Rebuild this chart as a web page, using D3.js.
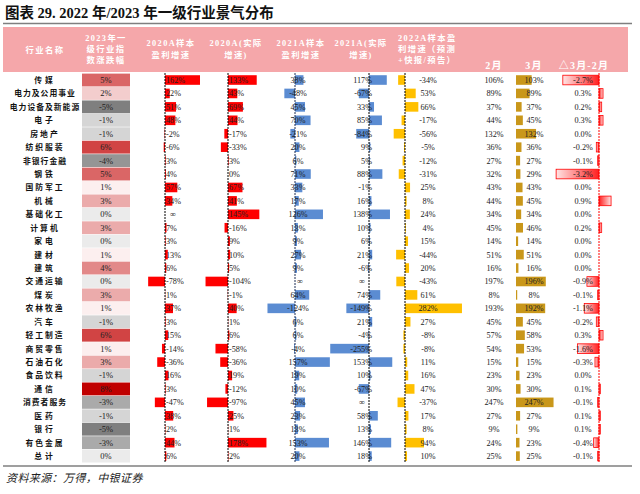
<!DOCTYPE html>
<html><head><meta charset="utf-8">
<script src="https://cdn.jsdelivr.net/npm/d3@7"></script>
<style>
html,body{margin:0;padding:0;background:#fff;}
svg{display:block;}
</style></head>
<body>
<svg id="chart" width="640" height="494"></svg>
<script>
// ---------------- DATA ----------------
const industries = ["传媒","电力及公用事业","电力设备及新能源","电子","房地产","纺织服装","非银行金融","钢铁","国防军工","机械","基础化工","计算机","家电","建材","建筑","交通运输","煤炭","农林牧渔","汽车","轻工制造","商贸零售","石油石化","食品饮料","通信","消费者服务","医药","银行","有色金属","总计"];
const idx2023   = [5,2,-5,-1,-1,6,-4,5,1,3,0,3,0,1,4,0,3,1,-1,6,1,3,-1,8,-3,-1,-5,-3,0];
const sample2020 = [162,22,51,48,-2,-6,3,4,57,34,null,7,3,13,6,-78,1,37,3,15,-14,-36,16,3,-47,38,2,44,6];
const actual2020 = [133,43,69,44,-17,-33,3,0,67,41,145,-16,9,10,5,-104,-1,40,1,6,-58,-36,19,-12,-97,25,1,178,2];
const sample2021 = [38,-48,45,70,-21,20,6,71,33,17,126,13,9,27,9,null,64,-124,6,6,-4,157,19,10,45,23,13,153,20];
const actual2021 = [117,-67,33,85,-84,9,5,88,-1,16,138,10,6,21,-6,null,74,-149,21,-4,-255,153,10,-67,null,58,13,146,18];
const sample2022 = [-34,53,66,-17,-56,-5,-12,-31,25,8,24,4,15,-44,20,-43,61,282,27,-8,-8,11,16,47,-37,17,8,94,10];
const feb = [106,89,37,44,132,36,27,32,43,44,34,45,14,51,16,197,8,193,45,57,54,15,23,30,247,27,9,24,25];
const mar = [103,89,37,45,132,36,27,29,43,45,34,46,14,51,16,196,8,192,45,58,53,15,23,30,247,27,9,23,25];
const delta = [-2.7,0.3,0.2,0.3,0.0,-0.2,-0.1,-3.2,0.0,0.9,0.0,0.2,0.0,0.0,0.0,-0.9,-0.1,-1.1,-0.2,0.3,-1.6,-0.3,0.0,0.1,-0.1,0.1,0.1,-0.4,-0.1];

const title = "图表 29. 2022 年/2023 年一级行业景气分布";
const source = "资料来源：万得，中银证券";
const headers = [
  {lines:["行业名称"], x:45, y:[53], anchor:"middle"},
  {lines:["2023年一","级行业指","数涨跌幅"], x:106, y:[41,52,63], anchor:"middle"},
  {lines:["2020A样本","盈利增速"], x:171, y:[46,58], anchor:"middle"},
  {lines:["2020A(实际","增速)"], x:236, y:[46,58], anchor:"middle"},
  {lines:["2021A样本","盈利增速"], x:301, y:[46,58], anchor:"middle"},
  {lines:["2021A(实际","增速)"], x:361, y:[46,58], anchor:"middle"},
  {lines:["2022A样本盈","利增速（预测","+快报/预告）"], x:398, y:[41,52,63], anchor:"start"}
];
const monthHeaders = [{t:"2月",x:494},{t:"3月",x:534},{t:"△3月-2月",x:584}];

// ---------------- DRAW ----------------
const svg = d3.select("#chart");
const SERIF = "'Liberation Serif','Times New Roman','Noto Sans CJK SC',serif";
const CJK = "'Liberation Serif','Noto Sans CJK SC',sans-serif";

// title
svg.append("text").attr("x",5).attr("y",18)
  .attr("font-family",CJK).attr("font-weight","bold").attr("font-size",14.5)
  .attr("fill","#111").text(title);
svg.append("line").attr("x1",3).attr("x2",632).attr("y1",23.5).attr("y2",23.5)
  .attr("stroke","#7f7f7f").attr("stroke-width",1.5);

// header band
svg.append("rect").attr("x",3).attr("y",27).attr("width",625).attr("height",45).attr("fill","#F5A7AA");
headers.forEach(h=>{
  h.lines.forEach((l,i)=>{
    svg.append("text").attr("x",h.x).attr("y",h.y[i]).attr("text-anchor",h.anchor)
      .attr("font-family",CJK).attr("font-weight","bold").attr("font-size",8.3)
      .attr("letter-spacing",1.4).attr("fill","#fff").text(l);
  });
});
monthHeaders.forEach(m=>{
  svg.append("text").attr("x",m.x).attr("y",69).attr("text-anchor","middle")
    .attr("font-family",CJK).attr("font-weight","bold").attr("font-size",10)
    .attr("letter-spacing",1.2).attr("fill","#fff").text(m.t);
});

const y = d3.scaleBand().domain(industries).range([73.3,462.8]);
const bw = y.bandwidth();
const barH = 9.6;
const rowMid = d => y(d) + bw/2;

// industry names
svg.append("g").selectAll("text").data(industries).join("text")
  .attr("x",45).attr("y",d=>rowMid(d)+3).attr("text-anchor","middle")
  .attr("font-family",CJK).attr("font-weight","bold").attr("font-size",7.8)
  .attr("letter-spacing",d=> d.length <= 2 ? 3 : (d.length <= 4 ? 2 : 1))
  .attr("fill","#111").text(d=>d);

// 2023 index change cells
const cellColor = d3.scaleLinear().domain([-5,0,1,8])
  .range(["#7f7f7f","#ebebeb","#fcefef","#c00000"]);
const gIdx = svg.append("g");
gIdx.selectAll("rect").data(industries).join("rect")
  .attr("x",82).attr("width",48).attr("y",d=>y(d)+0.3).attr("height",bw-0.6)
  .attr("fill",(d,i)=>cellColor(idx2023[i]));
gIdx.selectAll("text").data(industries).join("text")
  .attr("x",106).attr("y",d=>rowMid(d)+3).attr("text-anchor","middle")
  .attr("font-family",SERIF).attr("font-size",8.5).attr("fill","#222")
  .text((d,i)=>idx2023[i]+"%");

// bar columns
const columns = [
  {vals:sample2020, axis:165, k:0.216, color:"#FF0000", tx:166, anchor:"start", infX:173, axisColor:"#000"},
  {vals:actual2020, axis:228, k:0.216, color:"#FF0000", tx:229, anchor:"start", infX:236, axisColor:"#000"},
  {vals:sample2021, axis:295, k:0.222, color:"#5B8CD2", tx:298, anchor:"middle", infX:300, axisColor:"#1f2f55"},
  {vals:actual2021, axis:369, k:0.152, color:"#5B8CD2", tx:372, anchor:"end", infX:362, axisColor:"#000"},
  {vals:sample2022, axis:405, k:0.202, color:"#FFC000", tx:428, anchor:"middle", infX:428, axisColor:"#000"},
  {vals:mar, axis:516, k:0.152, color:"#C9971A", tx:534, anchor:"middle", infX:534, axisColor:null}
];

columns.forEach(c=>{
  const x = d3.scaleLinear().domain([0,100]).range([c.axis, c.axis + c.k*100]);
  const g = svg.append("g");
  g.selectAll("rect").data(industries).join("rect")
    .attr("x",(d,i)=> c.vals[i]==null ? x(0) : Math.min(x(0), x(c.vals[i])))
    .attr("width",(d,i)=> c.vals[i]==null ? 0 : Math.abs(x(c.vals[i]) - x(0)))
    .attr("y",d=>rowMid(d)-barH/2).attr("height",barH)
    .attr("fill",c.color);
  if (c.axisColor) {
    g.append("line").attr("x1",x(0)).attr("x2",x(0)).attr("y1",73).attr("y2",463)
      .attr("stroke",c.axisColor).attr("stroke-width",1).attr("stroke-dasharray","2,1");
  }
  g.selectAll("text").data(industries).join("text")
    .attr("x",(d,i)=> c.vals[i]==null ? c.infX : c.tx)
    .attr("y",d=>rowMid(d)+3)
    .attr("text-anchor",(d,i)=> c.vals[i]==null ? "middle" : c.anchor)
    .attr("font-family",SERIF).attr("font-size",8.2).attr("fill","#222")
    .text((d,i)=> c.vals[i]==null ? "∞" : c.vals[i]+"%");
});

// February values (text only)
svg.append("g").selectAll("text").data(industries).join("text")
  .attr("x",494).attr("y",d=>rowMid(d)+3).attr("text-anchor","middle")
  .attr("font-family",SERIF).attr("font-size",8.2).attr("fill","#222")
  .text((d,i)=>feb[i]+"%");

// delta column with gradient bars
const defs = svg.append("defs");
const gPos = defs.append("linearGradient").attr("id","gpos").attr("x1","0").attr("x2","1").attr("y1","0").attr("y2","0");
gPos.append("stop").attr("offset","0").attr("stop-color","#FF2020");
gPos.append("stop").attr("offset","1").attr("stop-color","#FFE4E4");
const gNeg = defs.append("linearGradient").attr("id","gneg").attr("x1","0").attr("x2","1").attr("y1","0").attr("y2","0");
gNeg.append("stop").attr("offset","0").attr("stop-color","#FFE4E4");
gNeg.append("stop").attr("offset","1").attr("stop-color","#FF2020");

const xd = d3.scaleLinear().domain([0,1]).range([599, 599+13.4]);
const gD = svg.append("g");
gD.selectAll("rect").data(industries).join("rect")
  .attr("x",(d,i)=>Math.min(xd(0), xd(delta[i])))
  .attr("width",(d,i)=>Math.abs(xd(delta[i])-xd(0)))
  .attr("y",d=>rowMid(d)-barH/2).attr("height",barH)
  .attr("fill",(d,i)=> delta[i] < 0 ? "url(#gneg)" : "url(#gpos)")
  .attr("stroke","#FF0000").attr("stroke-width",0.8)
  .attr("display",(d,i)=> delta[i]===0 ? "none" : null);
gD.append("line").attr("x1",xd(0)).attr("x2",xd(0)).attr("y1",73).attr("y2",463)
  .attr("stroke","#FF0000").attr("stroke-width",1).attr("stroke-dasharray","2,1");
gD.selectAll("text").data(industries).join("text")
  .attr("x",583).attr("y",d=>rowMid(d)+3).attr("text-anchor","middle")
  .attr("font-family",SERIF).attr("font-size",8.2).attr("fill","#222")
  .text((d,i)=>delta[i].toFixed(1)+"%");

// bottom rule and source
svg.append("line").attr("x1",3).attr("x2",632).attr("y1",466).attr("y2",466)
  .attr("stroke","#7f7f7f").attr("stroke-width",1.5);
svg.append("text").attr("x",6).attr("y",482)
  .attr("font-family",CJK).attr("font-style","italic").attr("font-size",11)
  .attr("letter-spacing",0.4).attr("fill","#222").text(source);
</script>
</body></html>
